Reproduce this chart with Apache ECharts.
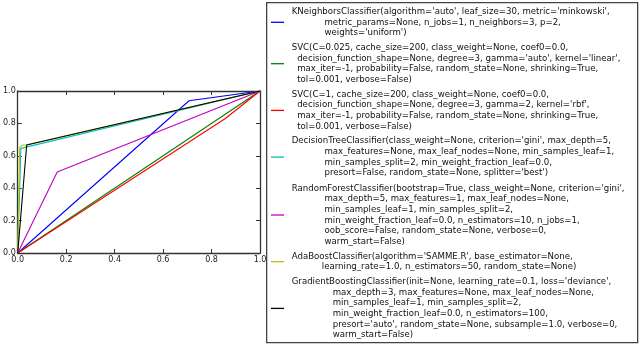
<!DOCTYPE html>
<html>
<head>
<meta charset="utf-8">
<script src="https://cdn.jsdelivr.net/npm/echarts@6/dist/echarts.min.js"></script>
<style>html,body{margin:0;padding:0;background:#fff;}#c{width:640px;height:345px;}</style>
</head>
<body>
<div id="c"></div>
<script>
const seriesNames = ['KNN', 'SVC linear', 'SVC rbf', 'DecisionTree', 'RandomForest', 'AdaBoost', 'GradientBoosting'];
const seriesColors = ['#0000ff', '#008000', '#ff0000', '#00bfbf', '#bf00bf', '#bfbf00', '#000000'];
const knnPoints = [[0, 0], [0.707, 0.94], [1, 1]];
const svcLinearPoints = [[0, 0], [1, 1]];
const svcRbfPoints = [[0, 0], [0.857, 0.83], [1, 1]];
const treePoints = [[0, 0], [0.013, 0.646], [1, 1]];
const forestPoints = [[0, 0], [0.163, 0.5], [1, 1]];
const adaPoints = [[0, 0], [0.008, 0.65], [0.018, 0.665], [0.037, 0.668], [1, 1]];
const gbPoints = [[0, 0], [0.037, 0.667], [1, 1]];
const tickValues = [0, 0.2, 0.4, 0.6, 0.8, 1.0];
const legendLabels = [
  "KNeighborsClassifier(algorithm='auto', leaf_size=30, metric='minkowski',\n            metric_params=None, n_jobs=1, n_neighbors=3, p=2,\n            weights='uniform')",
  "SVC(C=0.025, cache_size=200, class_weight=None, coef0=0.0,\n  decision_function_shape=None, degree=3, gamma='auto', kernel='linear',\n  max_iter=-1, probability=False, random_state=None, shrinking=True,\n  tol=0.001, verbose=False)",
  "SVC(C=1, cache_size=200, class_weight=None, coef0=0.0,\n  decision_function_shape=None, degree=3, gamma=2, kernel='rbf',\n  max_iter=-1, probability=False, random_state=None, shrinking=True,\n  tol=0.001, verbose=False)",
  "DecisionTreeClassifier(class_weight=None, criterion='gini', max_depth=5,\n            max_features=None, max_leaf_nodes=None, min_samples_leaf=1,\n            min_samples_split=2, min_weight_fraction_leaf=0.0,\n            presort=False, random_state=None, splitter='best')",
  "RandomForestClassifier(bootstrap=True, class_weight=None, criterion='gini',\n            max_depth=5, max_features=1, max_leaf_nodes=None,\n            min_samples_leaf=1, min_samples_split=2,\n            min_weight_fraction_leaf=0.0, n_estimators=10, n_jobs=1,\n            oob_score=False, random_state=None, verbose=0,\n            warm_start=False)",
  "AdaBoostClassifier(algorithm='SAMME.R', base_estimator=None,\n           learning_rate=1.0, n_estimators=50, random_state=None)",
  "GradientBoostingClassifier(init=None, learning_rate=0.1, loss='deviance',\n               max_depth=3, max_features=None, max_leaf_nodes=None,\n               min_samples_leaf=1, min_samples_split=2,\n               min_weight_fraction_leaf=0.0, n_estimators=100,\n               presort='auto', random_state=None, subsample=1.0, verbose=0,\n               warm_start=False)"
];
const allPoints = [knnPoints, svcLinearPoints, svcRbfPoints, treePoints, forestPoints, adaPoints, gbPoints];

const FONT = 'DejaVu Sans';
const chart = echarts.init(document.getElementById('c'), null, {renderer: 'canvas'});
const axisCommon = {
  type: 'value', min: 0, max: 1, interval: 0.2,
  axisLine: {show: true, onZero: false, lineStyle: {color: '#333', width: 1.3}},
  axisTick: {show: true, inside: true, length: 4, lineStyle: {color: '#333', width: 1}},
  splitLine: {show: false}
};
const labelStyle = {fontFamily: FONT, fontSize: 8, color: '#222', formatter: v => v.toFixed(1)};
const legendBase = {
  orient: 'vertical', left: 271, padding: 0,
  icon: 'rect', itemWidth: 13, itemHeight: 1.3, itemGap: 4.3,
  formatter: name => legendLabels[seriesNames.indexOf(name)],
  textStyle: {fontFamily: FONT, fontSize: 8.6, lineHeight: 10.6, color: '#111', padding: [0, 0, 0, 2.7]}
};
chart.setOption({
  animation: false,
  backgroundColor: '#fff',
  grid: {left: 15, top: 91, right: 380, bottom: 92, containLabel: false},
  xAxis: [
    Object.assign({}, axisCommon, {position: 'bottom', axisLabel: Object.assign({margin: 3}, labelStyle)}),
    Object.assign({}, axisCommon, {position: 'top', axisLabel: {show: false}})
  ],
  yAxis: [
    Object.assign({}, axisCommon, {position: 'left', axisLabel: Object.assign({margin: 2}, labelStyle)}),
    Object.assign({}, axisCommon, {position: 'right', axisLabel: {show: false}})
  ],
  graphic: [{
    type: 'rect', left: 266, top: 2, z: -1,
    shape: {width: 371, height: 340},
    style: {fill: '#fff', stroke: '#444', lineWidth: 1.3}
  }],
  legend: [
    Object.assign({}, legendBase, {top: 6.4, data: seriesNames.slice(0, 4)}),
    Object.assign({}, legendBase, {top: 183.2, data: seriesNames.slice(4)})
  ],
  series: allPoints.map((pts, i) => ({
    name: seriesNames[i], type: 'line', data: pts,
    symbol: 'none', showSymbol: false, silent: true,
    color: seriesColors[i],
    lineStyle: {color: seriesColors[i], width: 1.1}
  }))
});
</script>
</body>
</html>
